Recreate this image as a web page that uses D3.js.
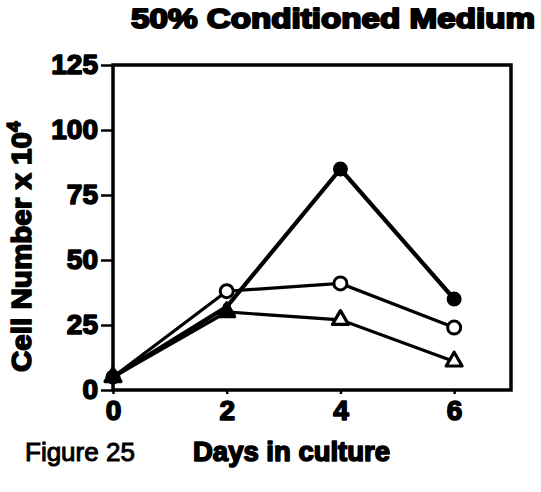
<!DOCTYPE html>
<html>
<head>
<meta charset="utf-8">
<script src="https://cdn.jsdelivr.net/npm/d3@7"></script>
<style>
  html, body { margin: 0; padding: 0; background: #fff; }
  svg { display: block; }
  text { font-family: "Liberation Sans", Arial, Helvetica, sans-serif; fill: #000; }
</style>
</head>
<body>
<svg id="chart" width="541" height="492"></svg>
<script>
// Days sampled and cell counts (x 10^4) for each culture series
const days = [0, 2, 4, 6];
const filledCircle = [5, 32, 85, 35];
const openCircle = [5, 38, 41, 24];
const openTriangle = [5, 30, 27, 11];
const yTicks = [0, 25, 50, 75, 100, 125];
const xTicks = [0, 2, 4, 6];

const svg = d3.select("#chart");
const plotLeft = 113, plotRight = 511, plotTop = 65, plotBottom = 390;

const x = d3.scaleLinear().domain([0, 7]).range([plotLeft, plotRight]);
const y = d3.scaleLinear().domain([0, 125]).range([plotBottom, plotTop]);

// Heavy bold text helper
function heavy(sel, w) {
  return sel.attr("font-weight", "bold")
    .attr("stroke", "#000").attr("stroke-width", w).attr("stroke-linejoin", "round");
}

// Y axis: ticks and labels outside the frame
const yAxis = svg.append("g")
  .attr("transform", `translate(${plotLeft},0)`)
  .call(d3.axisLeft(y).tickValues(yTicks).tickSize(12).tickPadding(3));
yAxis.select(".domain").remove();
yAxis.selectAll("line").attr("stroke", "#000").attr("stroke-width", 2.5);
yAxis.selectAll("text").attr("font-size", 28).attr("fill", "#000")
  .attr("font-family", "Liberation Sans, Arial, sans-serif")
  .call(heavy, 1.6);

// X axis
const xAxis = svg.append("g")
  .attr("transform", `translate(0,${plotBottom})`)
  .call(d3.axisBottom(x).tickValues(xTicks).tickFormat(d3.format("d")).tickSize(4).tickPadding(6));
xAxis.select(".domain").remove();
xAxis.selectAll("line").attr("stroke", "#000").attr("stroke-width", 2.5);
xAxis.selectAll("text").attr("font-size", 28).attr("fill", "#000")
  .attr("font-family", "Liberation Sans, Arial, sans-serif")
  .call(heavy, 1.6);

// Frame around plot area
svg.append("rect")
  .attr("x", plotLeft).attr("y", plotTop)
  .attr("width", plotRight - plotLeft).attr("height", plotBottom - plotTop)
  .attr("fill", "none").attr("stroke", "#000").attr("stroke-width", 3.5);

const line = d3.line().x((d, i) => x(days[i])).y(d => y(d));

// Lines
svg.append("path").datum(openTriangle).attr("d", line)
  .attr("fill", "none").attr("stroke", "#000").attr("stroke-width", 3.2);
svg.append("path").datum(openCircle).attr("d", line)
  .attr("fill", "none").attr("stroke", "#000").attr("stroke-width", 3.2);
svg.append("path").datum(filledCircle).attr("d", line)
  .attr("fill", "none").attr("stroke", "#000").attr("stroke-width", 4.2);

// Markers
const tri = d3.symbol().type(d3.symbolTriangle).size(110);
svg.selectAll(".tri").data(openTriangle).join("path")
  .attr("class", "tri")
  .attr("d", tri)
  .attr("transform", (d, i) => `translate(${x(days[i])},${y(d)})`)
  .attr("fill", (d, i) => i < 2 ? "#000" : "#fff")
  .attr("stroke", "#000").attr("stroke-width", 3.2).attr("stroke-linejoin", "round");

svg.selectAll(".oc").data(openCircle).join("circle")
  .attr("class", "oc")
  .attr("cx", (d, i) => x(days[i])).attr("cy", d => y(d))
  .attr("r", (d, i) => i === 0 ? 0 : 6.5)
  .attr("fill", "#fff").attr("stroke", "#000").attr("stroke-width", 3);

svg.selectAll(".fc").data(filledCircle).join("circle")
  .attr("class", "fc")
  .attr("cx", (d, i) => x(days[i])).attr("cy", d => y(d))
  .attr("r", (d, i) => i === 1 ? 4 : 7.5)
  .attr("fill", "#000");

// Title
svg.append("text")
  .attr("x", 131).attr("y", 28)
  .attr("font-size", 28)
  .attr("textLength", 404).attr("lengthAdjust", "spacingAndGlyphs")
  .call(heavy, 2)
  .text("50% Conditioned Medium");

// Y axis title
const yTitle = svg.append("text")
  .attr("transform", "translate(31,372) rotate(-90)")
  .attr("font-size", 28)
  .call(heavy, 1.6);
yTitle.append("tspan").attr("textLength", 240).attr("lengthAdjust", "spacingAndGlyphs")
  .text("Cell Number x 10");
yTitle.append("tspan").attr("font-size", 19).attr("dy", -11).text("4");

// Figure caption and x axis title
svg.append("text")
  .attr("x", 25).attr("y", 461)
  .attr("font-size", 26)
  .attr("stroke", "#000").attr("stroke-width", 1)
  .text("Figure 25");
svg.append("text")
  .attr("x", 193).attr("y", 461)
  .attr("font-size", 27)
  .attr("textLength", 197).attr("lengthAdjust", "spacingAndGlyphs")
  .call(heavy, 1.6)
  .text("Days in culture");
</script>
</body>
</html>
